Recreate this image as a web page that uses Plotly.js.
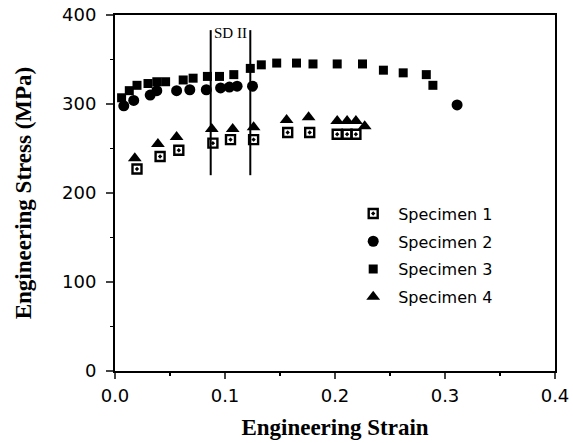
<!DOCTYPE html>
<html>
<head>
<meta charset="utf-8">
<script src="https://cdn.plot.ly/plotly-3.0.1.min.js"></script>
<style>html,body{margin:0;padding:0;background:#fff;}#chart{width:573px;height:443px;}</style>
</head>
<body>
<div id="chart"></div>
<script>
// Specimen 1 (open square)
const s1Strain = [0.020, 0.041, 0.058, 0.089, 0.105, 0.126, 0.157, 0.177, 0.202, 0.211, 0.219];
const s1Stress = [227, 241, 248, 256, 260, 260, 268, 268, 266, 266, 266];
// Specimen 2 (filled circle)
const s2Strain = [0.008, 0.017, 0.032, 0.038, 0.056, 0.068, 0.083, 0.096, 0.104, 0.111, 0.125, 0.311];
const s2Stress = [298, 304, 310, 315, 315, 316, 316, 318, 319, 320, 320, 299];
// Specimen 3 (filled square)
const s3Strain = [0.006, 0.013, 0.020, 0.030, 0.038, 0.046, 0.062, 0.071, 0.084, 0.095, 0.108, 0.123, 0.133, 0.147, 0.165, 0.180, 0.202, 0.225, 0.244, 0.262, 0.283, 0.289];
const s3Stress = [307, 315, 321, 323, 325, 325, 327, 329, 331, 331, 333, 340, 344, 346, 346, 345, 345, 345, 338, 335, 333, 321];
// Specimen 4 (triangle)
const s4Strain = [0.018, 0.039, 0.056, 0.088, 0.107, 0.126, 0.156, 0.176, 0.202, 0.211, 0.219, 0.227];
const s4Stress = [239, 255, 263, 272, 272, 274, 282, 285, 281, 281, 281, 275];
// SD II zone boundaries
const sdStrain = [0.087, 0.123];
const sdStress = [220, 383];
const sdLabel = "SD II";
const sdLabelPos = [0.105, 380];

const xTicks = [0, 0.1, 0.2, 0.3, 0.4];
const xTickText = ["0.0", "0.1", "0.2", "0.3", "0.4"];
const yTicks = [0, 100, 200, 300, 400];

const traces = [];
sdStrain.forEach(function (x) {
  traces.push({x: [x, x], y: sdStress, mode: 'lines', showlegend: false, hoverinfo: 'skip',
    line: {color: '#000', width: 2}});
});
traces.push({x: s1Strain, y: s1Stress, name: 'Specimen 1', mode: 'markers', legendgroup: 'a',
  marker: {symbol: 'square-open-dot', size: 9, color: '#000', line: {color: '#000', width: 2.4}}});
traces.push({x: s2Strain, y: s2Stress, name: 'Specimen 2', mode: 'markers', legendgroup: 'b',
  marker: {symbol: 'circle', size: 11, color: '#000'}});
traces.push({x: s3Strain, y: s3Stress, name: 'Specimen 3', mode: 'markers', legendgroup: 'c',
  marker: {symbol: 'square', size: 9, color: '#000'}});
traces.push({x: s4Strain, y: s4Stress, name: 'Specimen 4', mode: 'markers', legendgroup: 'd',
  marker: {symbol: 'triangle-up', size: 12, color: '#000'}});

const layout = {
  width: 573, height: 443,
  margin: {l: 115, r: 18, t: 15, b: 72},
  paper_bgcolor: '#fff', plot_bgcolor: '#fff',
  font: {family: 'DejaVu Sans', color: '#000', size: 17},
  showlegend: true,
  legend: {x: 0.53, y: 0.49, xanchor: 'left', yanchor: 'top', bgcolor: 'rgba(0,0,0,0)', itemwidth: 40,
    font: {family: 'DejaVu Sans', size: 16, color: '#000'}, tracegroupgap: 4, traceorder: 'grouped'},
  xaxis: {range: [0, 0.4], tickvals: xTicks, ticktext: xTickText, showgrid: false, zeroline: false,
    showline: true, mirror: true, linecolor: '#000', linewidth: 2, ticks: 'outside', ticklen: 6, tickwidth: 2,
    ticklabelstandoff: 1,
    minor: {dtick: 0.05, ticks: 'outside', ticklen: 3, tickwidth: 1.5, tickcolor: '#000', showgrid: false},
    tickfont: {family: 'DejaVu Sans', size: 18},
    title: {text: 'Engineering Strain', font: {family: 'Liberation Serif', size: 23, weight: 'bold'}, standoff: 14}},
  yaxis: {range: [0, 400], tickvals: yTicks, showgrid: false, zeroline: false,
    showline: true, mirror: true, linecolor: '#000', linewidth: 2, ticks: 'outside', ticklen: 7, tickwidth: 2,
    ticklabelstandoff: 6,
    minor: {dtick: 50, ticks: 'outside', ticklen: 3, tickwidth: 1.5, tickcolor: '#000', showgrid: false},
    tickfont: {family: 'DejaVu Sans', size: 18},
    title: {text: 'Engineering Stress (MPa)', font: {family: 'Liberation Serif', size: 23, weight: 'bold'}, standoff: 24}},
  annotations: [{x: sdLabelPos[0], y: sdLabelPos[1], xref: 'x', yref: 'y', text: sdLabel, showarrow: false,
    font: {family: 'Liberation Serif', size: 15, color: '#000'}}]
};

Plotly.newPlot('chart', traces, layout, {displayModeBar: false, staticPlot: true});
</script>
</body>
</html>
